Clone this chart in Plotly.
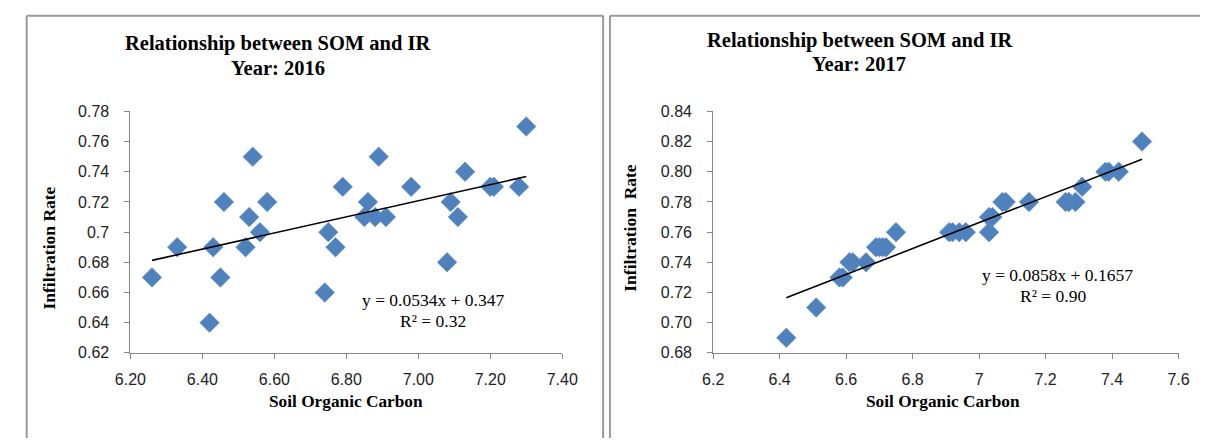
import numpy as np
import plotly.graph_objects as go

# ---- data ----
som_2016 = [6.26, 6.33, 6.42, 6.43, 6.45, 6.46, 6.52, 6.53, 6.54, 6.56, 6.58, 6.74, 6.75, 6.77, 6.79,
            6.85, 6.86, 6.88, 6.89, 6.91, 6.98, 7.08, 7.09, 7.11, 7.13, 7.20, 7.21, 7.28, 7.30]
ir_2016 = [0.67, 0.69, 0.64, 0.69, 0.67, 0.72, 0.69, 0.71, 0.75, 0.70, 0.72, 0.66, 0.70, 0.69, 0.73,
           0.71, 0.72, 0.71, 0.75, 0.71, 0.73, 0.68, 0.72, 0.71, 0.74, 0.73, 0.73, 0.73, 0.77]
som_2017 = [6.42, 6.51, 6.58, 6.59, 6.61, 6.62, 6.66, 6.69, 6.70, 6.71, 6.72, 6.75, 6.91, 6.92, 6.94,
            6.96, 7.03, 7.03, 7.04, 7.07, 7.08, 7.15, 7.26, 7.27, 7.29, 7.31, 7.38, 7.39, 7.42, 7.49]
ir_2017 = [0.69, 0.71, 0.73, 0.73, 0.74, 0.74, 0.74, 0.75, 0.75, 0.75, 0.75, 0.76, 0.76, 0.76, 0.76,
           0.76, 0.76, 0.77, 0.77, 0.78, 0.78, 0.78, 0.78, 0.78, 0.78, 0.79, 0.80, 0.80, 0.80, 0.82]
fit_2016 = (0.0534, 0.347)
fit_2017 = (0.0858, 0.1657)

xt_2016 = [6.2, 6.4, 6.6, 6.8, 7.0, 7.2, 7.4]
xt_2016_lbl = ["6.20", "6.40", "6.60", "6.80", "7.00", "7.20", "7.40"]
yt_2016 = [0.62, 0.64, 0.66, 0.68, 0.70, 0.72, 0.74, 0.76, 0.78]
yt_2016_lbl = ["0.62", "0.64", "0.66", "0.68", "0.7", "0.72", "0.74", "0.76", "0.78"]
xt_2017 = [6.2, 6.4, 6.6, 6.8, 7.0, 7.2, 7.4, 7.6]
xt_2017_lbl = ["6.2", "6.4", "6.6", "6.8", "7", "7.2", "7.4", "7.6"]
yt_2017 = [0.68, 0.70, 0.72, 0.74, 0.76, 0.78, 0.80, 0.82, 0.84]
yt_2017_lbl = ["0.68", "0.70", "0.72", "0.74", "0.76", "0.78", "0.80", "0.82", "0.84"]

W, H = 1216, 447
BLUE = "#4F81BD"
AX = "#868686"
SERIF = "Liberation Serif, Times New Roman, serif"
SANS = "Liberation Sans, Arial, sans-serif"

fig = go.Figure()

def add_panel(xs, ys, fit, xa, ya):
    fig.add_trace(go.Scatter(x=xs, y=ys, mode="markers", xaxis=xa, yaxis=ya,
                             marker=dict(symbol="diamond", size=15, color=BLUE,
                                         line=dict(width=0.6, color="#5b8cc6")),
                             showlegend=False, hoverinfo="x+y"))
    lx = np.array([min(xs), max(xs)])
    fig.add_trace(go.Scatter(x=lx, y=fit[0] * lx + fit[1], mode="lines", xaxis=xa, yaxis=ya,
                             line=dict(color="black", width=1.6), showlegend=False, hoverinfo="skip"))

add_panel(som_2016, ir_2016, fit_2016, "x", "y")
add_panel(som_2017, ir_2017, fit_2017, "x2", "y2")

ydom = [1 - 358.5 / H, 1 - 107.5 / H]
axcommon = dict(showgrid=False, zeroline=False, showline=True, linecolor=AX, linewidth=1,
                ticks="outside", ticklen=5, tickcolor=AX, tickmode="array",
                tickfont=dict(family=SANS, size=16, color="#222"))

fig.update_layout(
    width=W, height=H, margin=dict(l=0, r=0, t=0, b=0),
    paper_bgcolor="white", plot_bgcolor="white",
    xaxis=dict(domain=[117.5 / W, 561 / W], range=[6.2, 7.4], tickvals=xt_2016, ticktext=xt_2016_lbl,
               anchor="y", ticklabelstandoff=7, **axcommon),
    yaxis=dict(domain=ydom, range=[0.62, 0.78], tickvals=yt_2016, ticktext=yt_2016_lbl,
               anchor="x", ticklabelstandoff=12, **axcommon),
    xaxis2=dict(domain=[716 / W, 1194 / W], range=[6.2, 7.6], tickvals=xt_2017, ticktext=xt_2017_lbl,
                anchor="y2", ticklabelstandoff=7, **axcommon),
    yaxis2=dict(domain=ydom, range=[0.68, 0.84], tickvals=yt_2017, ticktext=yt_2017_lbl,
                anchor="x2", ticklabelstandoff=12, **axcommon),
)

def px(x):
    return x / W

def py(y):
    return 1 - y / H

ann = []
def text(x, y, s, size, bold=False, angle=0):
    ann.append(dict(x=px(x), y=py(y), xref="paper", yref="paper", text=("<b>%s</b>" % s) if bold else s,
                    showarrow=False, textangle=angle, xanchor="center", yanchor="middle",
                    font=dict(family=SERIF, size=size, color="black")))

# titles
text(269, 37, "Relationship between SOM and IR", 20.5, True)
text(269, 62, "Year: 2016", 20.5, True)
text(866, 33.5, "Relationship between SOM and IR", 20.5, True)
text(866, 58.5, "Year: 2017", 20.5, True)
# axis titles
text(34, 250, "Infiltration Rate", 17.5, True, -90)
text(339, 409, "Soil Organic Carbon", 17.3, True)
text(631, 228, "Infiltration&nbsp;&nbsp;Rate", 17.5, True, -90)
text(952, 409, "Soil Organic Carbon", 17.3, True)
# equations
text(428, 304, "y = 0.0534x + 0.347", 17.5)
text(428, 325, "R² = 0.32", 17.5)
text(1070, 278, "y = 0.0858x + 0.1657", 17.5)
text(1065, 299, "R² = 0.90", 17.5)
fig.update_layout(annotations=ann)

# panel frames
shapes = []
def line(x0, y0, x1, y1):
    shapes.append(dict(type="line", xref="paper", yref="paper", x0=px(x0), y0=py(y0), x1=px(x1), y1=py(y1),
                       line=dict(color="#9a9a9a", width=2)))
line(11, 8, 11, H)
line(11, 8, 603, 8)
line(603, 8, 603, H)
line(610, 8, 610, H)
line(610, 8, W, 8)
fig.update_layout(shapes=shapes)

fig.write_html("out.html",
               post_script="document.body.style.margin='0';document.body.style.overflow='hidden';")
